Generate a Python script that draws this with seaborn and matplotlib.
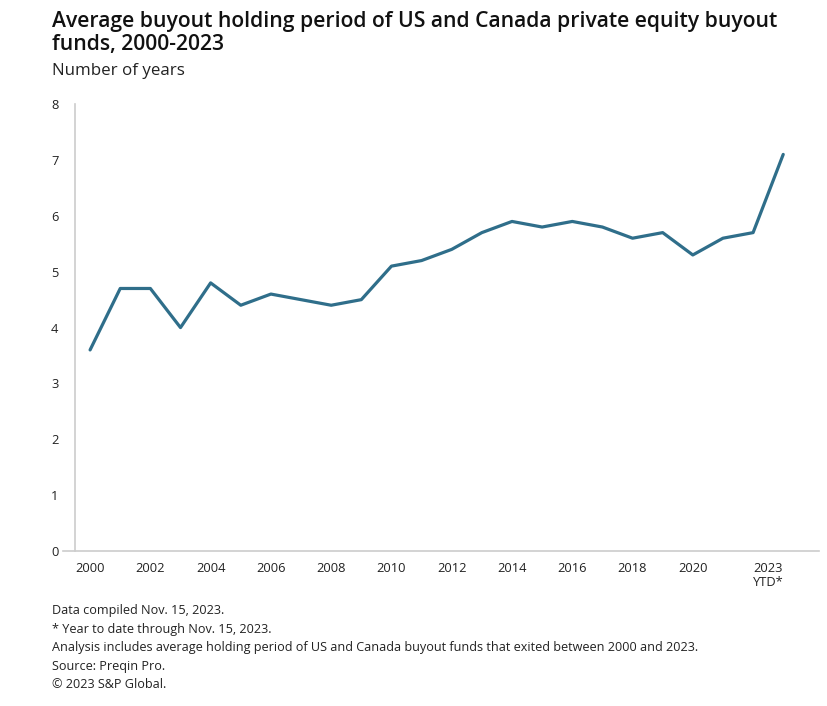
import numpy as np
import pandas as pd
import matplotlib
matplotlib.use("Agg")
import matplotlib.pyplot as plt
import seaborn as sns

years = list(range(2000, 2024))
holding_years = [3.6, 4.7, 4.7, 4.0, 4.8, 4.4, 4.6, 4.5, 4.4, 4.5,
                 5.1, 5.2, 5.4, 5.7, 5.9, 5.8, 5.9, 5.8, 5.6, 5.7,
                 5.3, 5.6, 5.7, 7.1]
tick_pos = [2000, 2002, 2004, 2006, 2008, 2010, 2012, 2014, 2016, 2018, 2020, 2022.5]
tick_labels = ["2000", "2002", "2004", "2006", "2008", "2010", "2012",
               "2014", "2016", "2018", "2020", "2023\nYTD*"]

title = "Average buyout holding period of US and Canada private equity buyout\nfunds, 2000-2023"
subtitle = "Number of years"
notes = [
    "Data compiled Nov. 15, 2023.",
    "* Year to date through Nov. 15, 2023.",
    "Analysis includes average holding period of US and Canada buyout funds that exited between 2000 and 2023.",
    "Source: Preqin Pro.",
    "\u00a9 2023 S&P Global.",
]

df = pd.DataFrame({"year": years, "value": holding_years})

sns.set_theme(style="white")
plt.rcParams["font.family"] = ["Open Sans", "DejaVu Sans"]

fig = plt.figure(figsize=(8.28, 7.06), dpi=100)
ax = fig.add_axes([0.0906, 0.2195, 0.899, 0.633])

sns.lineplot(data=df, x="year", y="value", color="#2f6e8a", linewidth=2.3, ax=ax)

ax.set_xlim(1999.5, 2024.2)
ax.set_ylim(0, 8)
ax.set_yticks(range(0, 9))
ax.set_xticks(tick_pos)
ax.set_xticklabels(tick_labels, linespacing=1.1)
ax.tick_params(axis="both", length=0, labelsize=9.3, colors="#222222")
ax.tick_params(axis="y", pad=12)
ax.tick_params(axis="x", pad=8)
ax.set_xlabel("")
ax.set_ylabel("")

for s in ["top", "right"]:
    ax.spines[s].set_visible(False)
ax.spines["left"].set_color("#cccccc")
ax.spines["bottom"].set_color("#cccccc")
ax.spines["left"].set_linewidth(1.2)
ax.spines["bottom"].set_linewidth(1.2)
ax.spines["bottom"].set_bounds(1999.1, 2024.2)

fig.text(0.063, 0.984, title, fontsize=15.2, fontweight="semibold", va="top",
         ha="left", color="#111111", linespacing=1.1)
fig.text(0.063, 0.911, subtitle, fontsize=12.2, va="top", ha="left", color="#222222")

y0 = 0.135
for i, line in enumerate(notes):
    fig.text(0.063, y0 - i * 0.0262, line, fontsize=9.1, va="center",
             ha="left", color="#222222")

fig.savefig("out.png", dpi=100)
